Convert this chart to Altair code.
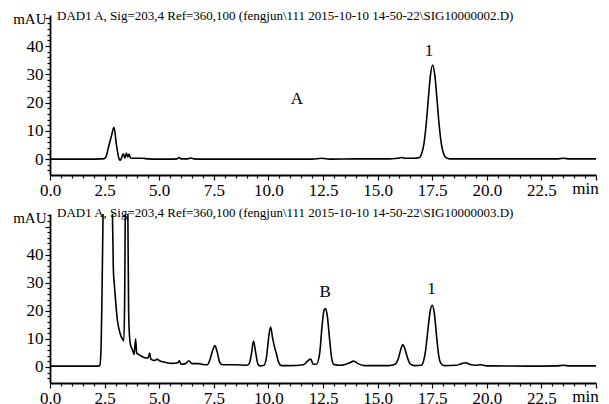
import altair as alt
import pandas as pd

# ---- Chromatogram A (top) ----
top_t = [0.0, 1.8, 2.3, 2.47, 2.55, 2.67, 2.81, 2.93, 3.04, 3.16, 3.22, 3.36, 3.43, 3.5, 3.56,
         3.62, 3.69, 3.92, 4.23, 4.5, 5.0, 5.5, 5.82, 5.9, 6.0, 6.3, 6.44, 6.6, 7.0, 8.0, 10.0,
         12.0, 12.45, 12.8, 14.0, 15.5, 15.9, 16.1, 16.3, 16.62, 16.92, 17.02, 17.12, 17.22,
         17.32, 17.42, 17.52, 17.62, 17.72, 17.82, 17.92, 18.02, 18.12, 18.3, 20.0, 22.0,
         23.2, 23.5, 23.8, 25.0]
top_v = [0.0, 0.0, 0.1, 0.2, 0.6, 4.0, 8.1, 11.3, 5.2, 0.2, -0.4, 1.9, 0.3, 2.2, 0.8,
         1.7, 0.4, 0.3, 0.3, 0.1, 0.0, 0.0, 0.1, 0.6, 0.1, 0.1, 0.4, 0.1, 0.0, 0.0, 0.0,
         0.0, 0.3, 0.0, 0.1, 0.1, 0.3, 0.6, 0.3, 0.3, 0.6, 2.0, 5.4, 12.0,
         21.1, 29.7, 33.3, 29.7, 21.1, 12.0, 5.4, 2.0, 0.6, 0.1, 0.1, 0.1,
         0.1, 0.3, 0.1, 0.1]
top_ann_t = [11.3, 17.35]
top_ann_v = [18.0, 35.0]
top_ann_lab = ["A", "1"]

# ---- Chromatogram B (bottom) ----
bot_t = [0.0, 2.2, 2.28, 2.33, 2.38, 2.43, 2.5, 2.7, 2.85, 2.9, 2.95, 3.0, 3.08, 3.16, 3.25,
         3.33, 3.38, 3.42, 3.46, 3.52, 3.56, 3.6, 3.64, 3.69, 3.77, 3.85, 3.92, 3.97, 4.05,
         4.2, 4.4, 4.5, 4.56, 4.62, 4.8, 4.9, 5.0, 5.15, 5.4, 5.6, 5.85, 5.92, 6.0, 6.2,
         6.36, 6.5, 6.8, 7.0, 7.2, 7.32, 7.45, 7.55, 7.65, 7.78, 7.9, 8.5, 9.0, 9.12, 9.22,
         9.32, 9.42, 9.52, 9.62, 9.8, 9.92, 10.02, 10.1, 10.2, 10.3, 10.36, 10.45, 10.6,
         11.0, 11.6, 11.85, 11.94, 12.05, 12.2, 12.35, 12.45, 12.55, 12.62, 12.7, 12.8,
         12.9, 13.0, 13.3, 13.7, 13.9, 14.1, 14.4, 15.5, 15.8, 15.95, 16.07, 16.16, 16.25,
         16.38, 16.5, 16.7, 17.0, 17.1, 17.2, 17.3, 17.4, 17.5, 17.6, 17.7, 17.8, 17.9,
         18.05, 18.6, 18.85, 19.03, 19.2, 19.5, 19.7, 20.0, 22.0, 23.2, 23.5, 23.8, 25.0]
bot_v = [0.3, 0.3, 0.6, 5.0, 25.0, 55.0, 90.0, 110.0, 60.0, 35.0, 29.0, 24.0, 17.0, 13.5, 11.0,
         9.8, 9.3, 25.0, 70.0, 90.0, 60.0, 20.0, 11.0, 7.7, 6.3, 4.4, 10.0, 5.0, 4.5,
         3.8, 3.2, 3.4, 5.0, 2.8, 2.3, 2.8, 2.3, 1.9, 1.4, 1.3, 1.5, 2.2, 1.0, 1.2,
         2.2, 1.2, 1.2, 0.9, 0.8, 2.5, 6.0, 7.6, 5.5, 1.5, 0.8, 0.8, 0.6, 1.2, 4.5,
         9.2, 5.0, 1.0, 0.4, 0.6, 4.0, 11.0, 14.2, 10.0, 6.5, 5.0, 2.0, 0.5,
         0.5, 0.8, 2.5, 2.8, 1.0, 1.0, 5.0, 14.0, 20.3, 20.8, 18.0, 10.0,
         3.0, 0.9, 0.6, 1.4, 2.1, 1.2, 0.5, 0.5, 1.0, 3.0, 6.5, 8.0, 6.5,
         3.0, 1.0, 0.5, 0.6, 2.0, 6.0, 13.0, 19.5, 22.0, 19.0, 11.0, 4.0, 1.3,
         0.5, 0.6, 1.2, 1.5, 1.0, 0.6, 0.8, 0.4, 0.3, 0.4, 0.6, 0.4, 0.4]
bot_ann_t = [12.6, 17.47]
bot_ann_v = [23.5, 24.5]
bot_ann_lab = ["B", "1"]

titles = [
    "DAD1 A, Sig=203,4 Ref=360,100 (fengjun\\111 2015-10-10 14-50-22\\SIG10000002.D)",
    "DAD1 A, Sig=203,4 Ref=360,100 (fengjun\\111 2015-10-10 14-50-22\\SIG10000003.D)",
]

x_ticks = [i * 0.5 for i in range(51)]
y_ticks = list(range(-4, 56, 2))
FONT = "Liberation Serif"

x_axis = alt.Axis(
    values=x_ticks, title=None, grid=False,
    labelExpr="datum.value == 24.5 ? 'min' : ((datum.value % 2.5 == 0 && datum.value < 24) ? format(datum.value, '.1f') : '')",
    labelFont=FONT, labelFontSize=17, labelColor="black", labelOverlap=False,
    labelFlush=False, labelBound=False, labelPadding=2,
    tickSize={"condition": {"test": "datum.value % 2.5 != 0", "value": 3}, "value": 5},
    tickColor="black", tickWidth=1.2, domainColor="black", domainWidth=1.8,
)


def y_axis():
    return alt.Axis(
        values=y_ticks, grid=False,
        labelExpr="(datum.value % 10 == 0 && datum.value >= 0 && datum.value < 45) ? datum.value : ''",
        labelFont=FONT, labelFontSize=17, labelColor="black", labelOverlap=False,
        labelFlush=False, labelBound=False, labelPadding=2, labelBaseline="middle",
        tickSize={"condition": {"test": "datum.value % 10 != 0", "value": 3}, "value": 5},
        tickColor="black", tickWidth=1.2, domainColor="black", domainWidth=1.8,
        title="mAU", titleAngle=0, titleAlign="right", titleBaseline="middle",
        titleX=-4, titleY=3, titleFont=FONT, titleFontSize=15, titleFontWeight="normal",
        titleColor="black",
    )


def panel(t, v, at, av, al, title, ydom, h):
    df = pd.DataFrame({"t": t, "v": v})
    adf = pd.DataFrame({"t": at, "v": av, "label": al})
    xs = alt.Scale(domain=[0, 25], nice=False, zero=False)
    ys = alt.Scale(domain=ydom, nice=False, zero=False)
    line = alt.Chart(df).mark_line(
        color="black", strokeWidth=1.6, interpolate="monotone", clip=True
    ).encode(
        x=alt.X("t:Q", scale=xs, axis=x_axis),
        y=alt.Y("v:Q", scale=ys, axis=y_axis()),
    )
    txt = alt.Chart(adf).mark_text(
        font=FONT, fontSize=17, baseline="bottom", color="black"
    ).encode(
        x=alt.X("t:Q", scale=xs, axis=x_axis),
        y=alt.Y("v:Q", scale=ys, axis=y_axis()),
        text="label:N",
    )
    return alt.layer(line, txt).properties(
        width=546, height=h,
        title=alt.TitleParams(
            text=title, anchor="start", frame="group", font=FONT, fontSize=13,
            fontWeight="normal", color="black", dx=7, dy=14, offset=0,
        ),
    )


top = panel(top_t, top_v, top_ann_t, top_ann_v, top_ann_lab, titles[0], [-5.6, 51.0], 160)
bot = panel(bot_t, bot_v, bot_ann_t, bot_ann_v, bot_ann_lab, titles[1], [-5.7, 54.5], 169)

chart = alt.vconcat(top, bot, spacing=8).properties(
    padding={"left": 4, "top": 0, "right": 2, "bottom": 0}
).configure(
    background="white",
    font=FONT,
    style={
        "guide-label": {"font": FONT, "fill": "black"},
        "guide-title": {"font": FONT, "fill": "black"},
        "group-title": {"font": FONT},
    },
).configure_view(stroke=None).configure_axis(
    labelFont=FONT, titleFont=FONT
).configure_title(font=FONT)

chart.save("out.html", embed_options={"renderer": "svg", "actions": False})
